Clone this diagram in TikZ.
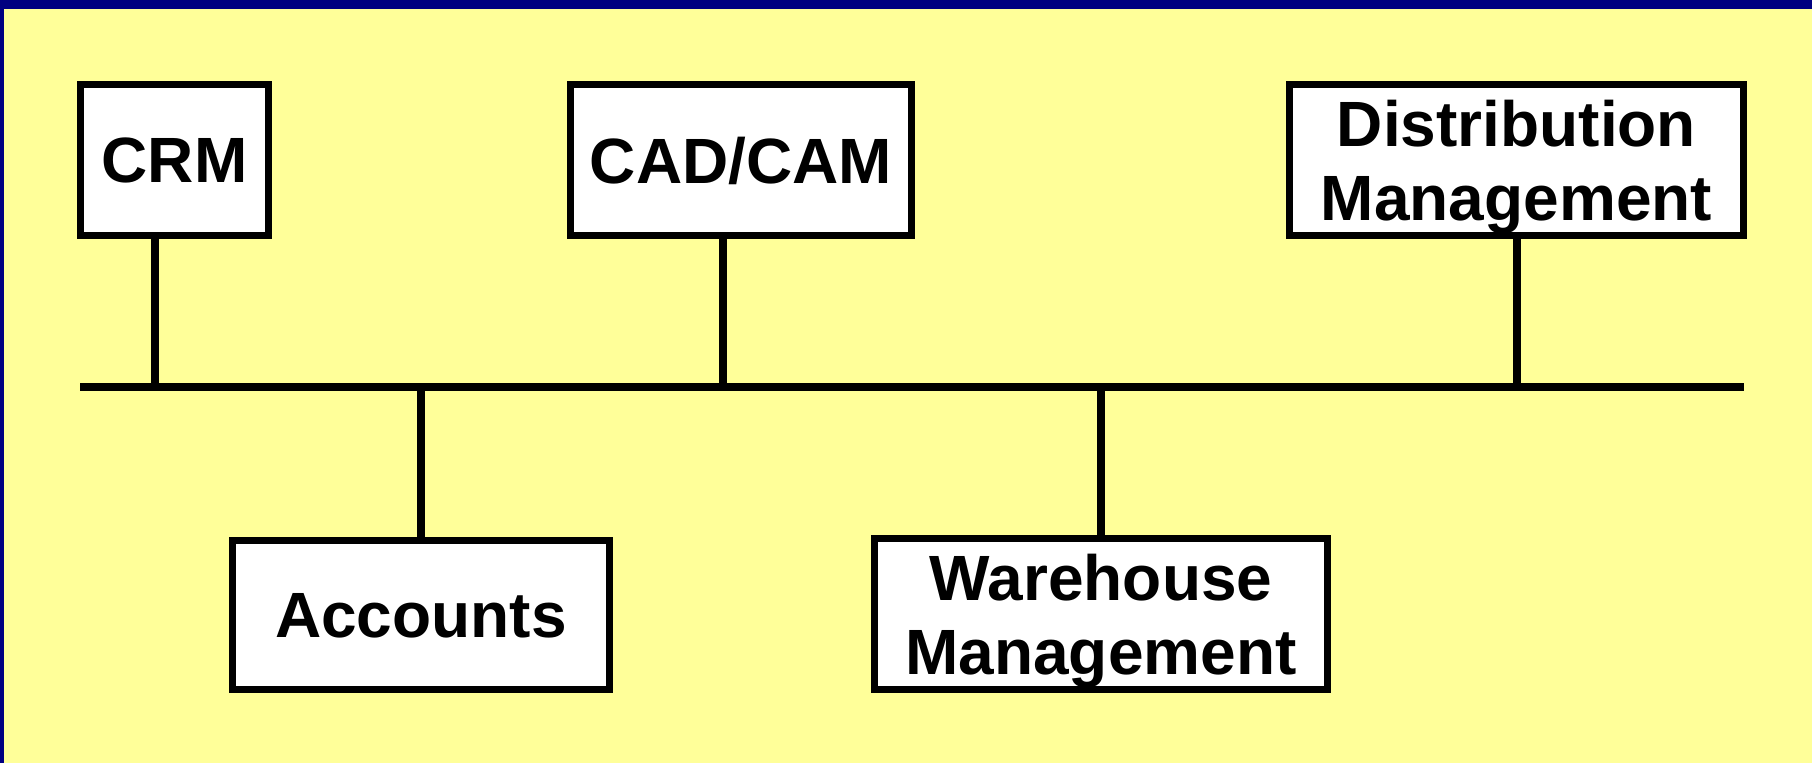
\documentclass[tikz,border=0pt]{standalone}
\usepackage{fontspec}
\setmainfont{Liberation Sans}
\definecolor{slideyellow}{HTML}{FFFF99}
\definecolor{slidenavy}{HTML}{000080}

\begin{document}
\begin{tikzpicture}[x=0.5pt,y=-0.5pt,
  sys node/.style={rectangle,draw,fill=white,line width=3.6pt,
    minimum height=75.5pt,align=center,inner sep=0pt,text depth=0pt,
    font=\fontsize{32}{37}\selectfont\bfseries}]

  % background
  \useasboundingbox (0,0) rectangle (1812,763);
  \fill[slideyellow] (0,0) rectangle (1812,763);
  \fill[slidenavy] (0,0) rectangle (1812,9);
  \fill[slidenavy] (0,0) rectangle (4,763);

  \node[sys node, minimum width=94pt] (crm) at (174.5,160) {CRM};
  \node[sys node, minimum width=170.5pt] (cad) at (741,160) {CAD/CAM};
  \node[sys node, minimum width=227pt] (dist) at (1516.5,160) {Distribution\\Management};
  \node[sys node, minimum width=188.5pt, minimum height=74.5pt] (acc) at (421,615) {Accounts};
  \node[sys node, minimum width=226.5pt] (wh) at (1101,614) {Warehouse\\Management};
  \coordinate (busL) at (80,387);
  \coordinate (busR) at (1744,387);
  \coordinate (crmtap) at (155,387);
  \coordinate (cadtap) at (723,387);

  \path (busL) [-, line width=4pt] edge (busR);
  \path (crmtap |- crm.south) [-, line width=4pt] edge (crmtap);
  \path (cadtap |- cad.south) [-, line width=4pt] edge (cadtap);
  \path (dist) [-, line width=4pt] edge (dist |- busL);
  \path (acc) [-, line width=4pt] edge (acc |- busL);
  \path (wh) [-, line width=4pt] edge (wh |- busL);
\end{tikzpicture}
\end{document}
